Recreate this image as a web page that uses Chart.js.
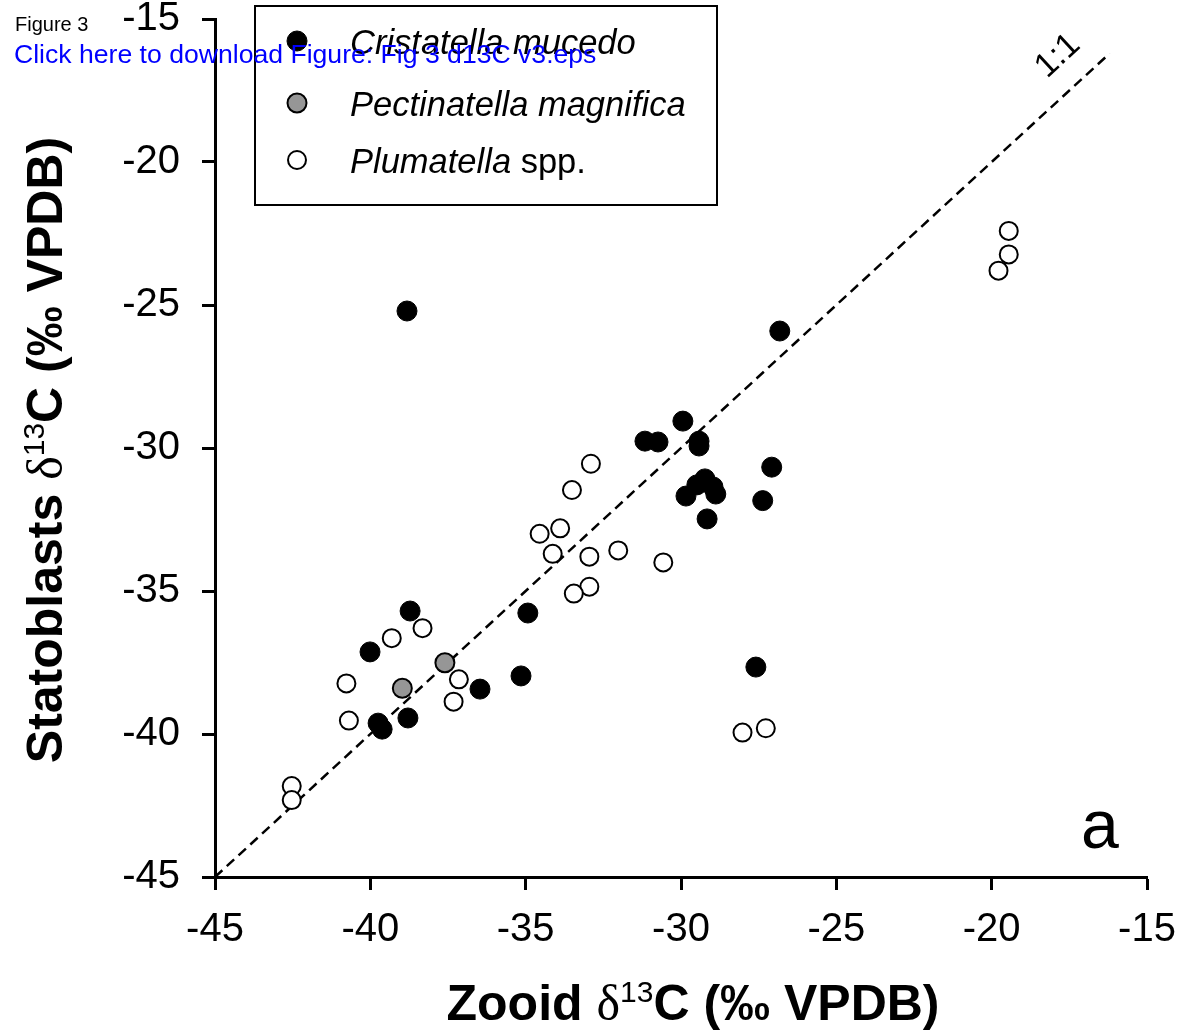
<!DOCTYPE html>
<html>
<head>
<meta charset="utf-8">
<script src="https://cdn.jsdelivr.net/npm/chart.js@4/dist/chart.umd.min.js"></script>
<style>
html,body{margin:0;padding:0;background:#fff;}
#wrap{position:relative;width:1183px;height:1035px;}
</style>
</head>
<body>
<div id="wrap"><canvas id="c" width="1183" height="1035"></canvas></div>
<script>
// ---- Data ----
const seriesNames = ['Cristatella mucedo', 'Pectinatella magnifica', 'Plumatella spp.'];

const cristatellaX = [-38.82, -26.82, -29.94, -31.16, -30.74, -29.42, -29.42, -27.08, -27.37, -29.84, -29.49, -29.23, -28.97, -28.88, -29.16, -34.93, -38.72, -40.01, -36.47, -35.15, -27.59, -38.79, -39.75, -39.62];
const cristatellaY = [-25.21, -25.91, -29.06, -29.76, -29.79, -29.76, -29.93, -30.67, -31.84, -31.68, -31.29, -31.08, -31.36, -31.61, -32.48, -35.77, -35.70, -37.13, -38.43, -37.97, -37.66, -39.44, -39.62, -39.83];

const pectinatellaX = [-37.60, -38.97];
const pectinatellaY = [-37.51, -38.40];

const plumatellaX = [-19.45, -19.45, -19.78, -32.90, -33.51, -33.89, -34.55, -34.13, -32.95, -32.02, -30.57, -32.95, -33.45, -38.32, -39.31, -40.77, -37.15, -37.32, -40.69, -42.53, -42.53, -28.02, -27.27];
const plumatellaY = [-22.41, -23.23, -23.80, -30.55, -31.47, -32.81, -33.00, -33.70, -33.80, -33.58, -34.00, -34.85, -35.09, -36.30, -36.65, -38.23, -38.09, -38.87, -39.53, -41.82, -42.31, -39.95, -39.80];

const oneToOneX = [-45, -16.2];
const oneToOneY = [-45, -16.2];

const xTickValues = [-45, -40, -35, -30, -25, -20, -15];
const xTickLabels = ['-45', '-40', '-35', '-30', '-25', '-20', '-15'];
const yTickValues = [-45, -40, -35, -30, -25, -20, -15];
const yTickLabels = ['-45', '-40', '-35', '-30', '-25', '-20', '-15'];

const xTitleParts = ['Zooid ', 'δ', '13', 'C (‰ VPDB)'];
const yTitleParts = ['Statoblasts ', 'δ', '13', 'C (‰ VPDB)'];
const panelLabel = 'a';
const lineLabel = '1:1';
const headerTitle = 'Figure 3';
const headerLink = 'Click here to download Figure: Fig 3 d13C v3.eps';

// ---- helpers ----
const zip = (xs, ys) => xs.map((x, i) => ({x: x, y: ys[i]}));
const SANS = '"Liberation Sans", Arial, sans-serif';
const SERIF = '"Liberation Serif", "Times New Roman", serif';

function titlePieces(parts, size) {
  return [
    {t: parts[0], f: 'bold ' + size + 'px ' + SANS, dy: 0},
    {t: parts[1], f: size + 'px ' + SERIF, dy: 0},
    {t: parts[2], f: Math.round(size * 0.6) + 'px ' + SANS, dy: -size * 0.36},
    {t: parts[3], f: 'bold ' + size + 'px ' + SANS, dy: 0}
  ];
}
function drawPieces(ctx, pieces, cx, baseY) {
  let total = 0;
  pieces.forEach(p => { ctx.font = p.f; p.w = ctx.measureText(p.t).width; total += p.w; });
  let x = cx - total / 2;
  ctx.textBaseline = 'alphabetic';
  ctx.textAlign = 'left';
  pieces.forEach(p => { ctx.font = p.f; ctx.fillText(p.t, x, baseY + p.dy); x += p.w; });
}

const decorPlugin = {
  id: 'decor',
  afterDatasetsDraw(chart) {
    const ctx = chart.ctx;
    const xs = chart.scales.x, ys = chart.scales.y;
    ctx.save();
    ctx.fillStyle = '#000';
    // axis titles
    drawPieces(ctx, titlePieces(xTitleParts, 50), 693, 1020);
    ctx.save();
    ctx.translate(62, 450);
    ctx.rotate(-Math.PI / 2);
    drawPieces(ctx, titlePieces(yTitleParts, 50), 0, 0);
    ctx.restore();

    // 1:1 label
    const ang = Math.atan2(ys.getPixelForValue(-16) - ys.getPixelForValue(-45), xs.getPixelForValue(-16) - xs.getPixelForValue(-45));
    ctx.save();
    ctx.translate(1058, 56);
    ctx.rotate(ang);
    ctx.font = '34px ' + SANS;
    ctx.textAlign = 'center';
    ctx.textBaseline = 'middle';
    ctx.fillText(lineLabel, 0, 0);
    ctx.restore();

    // panel label
    ctx.font = '68px ' + SANS;
    ctx.textAlign = 'center';
    ctx.textBaseline = 'alphabetic';
    ctx.fillText(panelLabel, 1100, 848);

    // legend box
    ctx.lineWidth = 2;
    ctx.strokeStyle = '#000';
    ctx.strokeRect(255, 6, 462, 199);
    const items = [
      {y: 41, fill: '#000', bw: 1, r: 10},
      {y: 103, fill: '#969696', bw: 2, r: 9.5},
      {y: 160, fill: '#fff', bw: 2, r: 9}
    ];
    items.forEach((it, i) => {
      ctx.beginPath();
      ctx.arc(297, it.y, it.r, 0, Math.PI * 2);
      ctx.fillStyle = it.fill;
      ctx.fill();
      ctx.lineWidth = it.bw;
      ctx.strokeStyle = '#000';
      ctx.stroke();
      ctx.fillStyle = '#000';
      ctx.textAlign = 'left';
      ctx.textBaseline = 'middle';
      const name = seriesNames[i];
      if (i === 2) {
        const parts = name.split(' ');
        ctx.font = 'italic 34.5px ' + SANS;
        ctx.fillText(parts[0], 350, it.y + 3);
        const w = ctx.measureText(parts[0] + ' ').width;
        ctx.font = '34.5px ' + SANS;
        ctx.fillText(parts.slice(1).join(' '), 350 + w, it.y + 3);
      } else {
        ctx.font = 'italic 34.5px ' + SANS;
        ctx.fillText(name, 350, it.y + 3);
      }
    });

    // header text
    ctx.textAlign = 'left';
    ctx.textBaseline = 'alphabetic';
    ctx.fillStyle = '#000';
    ctx.font = '20px ' + SANS;
    ctx.fillText(headerTitle, 15, 31);
    ctx.fillStyle = '#0000ff';
    ctx.font = '26.6px ' + SANS;
    ctx.fillText(headerLink, 14, 63);
    ctx.restore();
  }
};

const zeroPad = s => { s.paddingTop = 0; s.paddingBottom = 0; s.paddingLeft = 0; s.paddingRight = 0; };

new Chart(document.getElementById('c'), {
  type: 'scatter',
  data: {
    datasets: [
      {
        label: seriesNames[0], data: zip(cristatellaX, cristatellaY),
        backgroundColor: '#000', borderColor: '#000', borderWidth: 1, pointRadius: 10, order: 1
      },
      {
        label: seriesNames[1], data: zip(pectinatellaX, pectinatellaY),
        backgroundColor: '#969696', borderColor: '#000', borderWidth: 2, pointRadius: 9.5, order: 2
      },
      {
        label: seriesNames[2], data: zip(plumatellaX, plumatellaY),
        backgroundColor: '#fff', borderColor: '#000', borderWidth: 2, pointRadius: 9, order: 3
      },
      {
        type: 'line', label: lineLabel, data: zip(oneToOneX, oneToOneY),
        borderColor: '#000', borderWidth: 2.5, borderDash: [10, 6], pointRadius: 0, fill: false, order: 10
      }
    ]
  },
  options: {
    responsive: false,
    animation: false,
    devicePixelRatio: 1,
    layout: {padding: {left: 0, top: 19, right: 36, bottom: 0}},
    plugins: {legend: {display: false}, tooltip: {enabled: false}},
    scales: {
      x: {
        type: 'linear', min: -45, max: -15,
        afterBuildTicks: s => { s.ticks = xTickValues.map(v => ({value: v})); },
        afterFit: s => { s.height = 158; zeroPad(s); },
        ticks: {
          callback: (v) => xTickLabels[xTickValues.indexOf(v)],
          font: {family: SANS, size: 40}, color: '#000', padding: 16, maxRotation: 0
        },
        grid: {display: true, drawOnChartArea: false, drawTicks: true, tickLength: 13, tickWidth: 3, tickColor: '#000'},
        border: {display: true, color: '#000', width: 3}
      },
      y: {
        type: 'linear', min: -45, max: -15,
        afterBuildTicks: s => { s.ticks = yTickValues.map(v => ({value: v})); },
        afterFit: s => { s.width = 215; zeroPad(s); },
        ticks: {
          callback: (v) => yTickLabels[yTickValues.indexOf(v)],
          font: {family: SANS, size: 40}, color: '#000', padding: 22
        },
        grid: {display: true, drawOnChartArea: false, drawTicks: true, tickLength: 13, tickWidth: 3, tickColor: '#000'},
        border: {display: true, color: '#000', width: 3}
      }
    }
  },
  plugins: [decorPlugin]
});
</script>
</body>
</html>
